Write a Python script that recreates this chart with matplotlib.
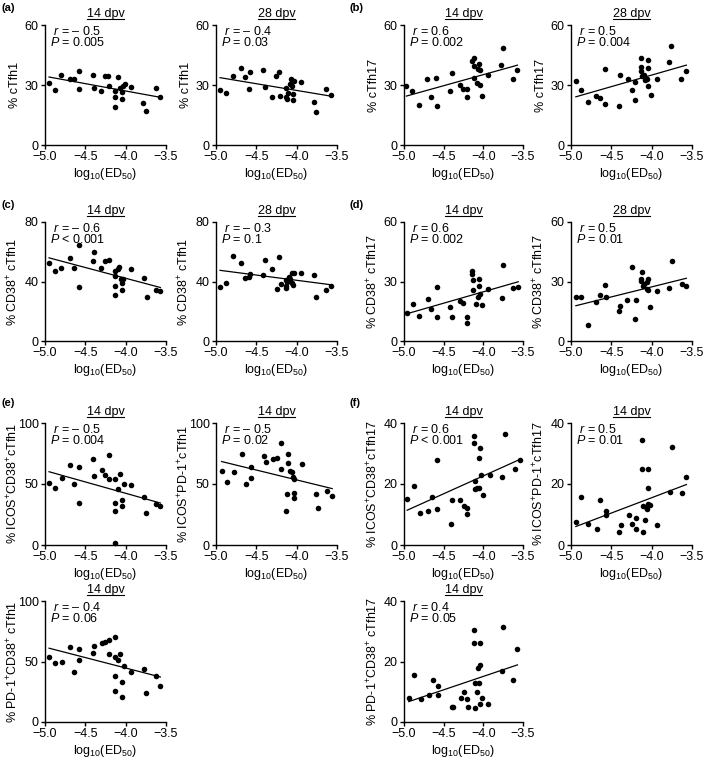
import matplotlib
matplotlib.use('Agg')
import matplotlib.pyplot as plt
import numpy as np

plt.rcParams['font.family'] = 'Liberation Sans'
plt.rcParams['mathtext.fontset'] = 'custom'
plt.rcParams['mathtext.rm'] = 'Liberation Sans'
plt.rcParams['mathtext.it'] = 'Liberation Sans:italic'
plt.rcParams['mathtext.bf'] = 'Liberation Sans:bold'

# (a) cTfh1
a14_x = [-4.95, -4.88, -4.80, -4.69, -4.64, -4.58, -4.58, -4.41, -4.39, -4.30, -4.26, -4.22, -4.21, -4.13,
         -4.13, -4.13, -4.09, -4.07, -4.05, -4.04, -4.03, -4.01, -3.94, -3.78, -3.75, -3.63, -3.57]
a14_y = [30.8, 27.3, 35, 33, 33, 36.8, 27.8, 35.2, 28.7, 27.2, 34.7, 34.7, 29.5, 27,
         23.8, 19.2, 33.8, 28.7, 23, 26.7, 29.7, 30.3, 29, 21, 17.2, 28.3, 23.8]
a28_x = [-4.95, -4.88, -4.79, -4.69, -4.64, -4.58, -4.59, -4.42, -4.39, -4.30, -4.26, -4.22, -4.21, -4.13,
         -4.13, -4.12, -4.11, -4.08, -4.07, -4.06, -4.05, -4.05, -4.03, -3.95, -3.78, -3.76, -3.64, -3.57]
a28_y = [27.4, 25.9, 34.5, 38.3, 33.8, 36.6, 28, 37.3, 28.9, 24, 34.5, 36.6, 24.5, 28.5,
         24, 23, 26, 30.3, 32.8, 29.4, 25.4, 22.7, 31.8, 31.7, 21.6, 16.7, 28.2, 24.9]

# (b) cTfh17
b14_x = [-4.97, -4.90, -4.81, -4.71, -4.66, -4.60, -4.59, -4.42, -4.40, -4.30, -4.26, -4.21, -4.21, -4.14,
         -4.12, -4.12, -4.12, -4.08, -4.07, -4.05, -4.04, -4.04, -4.02, -3.94, -3.78, -3.75, -3.62, -3.57]
b14_y = [29.5, 26.9, 19.9, 33.1, 24.2, 33.6, 19.7, 26.9, 35.8, 30, 27.8, 28.2, 24.2, 41.8,
         43.3, 39.6, 33.6, 30.8, 37.8, 40.3, 37.6, 30, 24.7, 35, 40.1, 48.3, 32.8, 37.5]
b28_x = [-4.94, -4.87, -4.79, -4.69, -4.64, -4.58, -4.58, -4.41, -4.39, -4.29, -4.25, -4.21, -4.21, -4.13,
         -4.13, -4.13, -4.12, -4.09, -4.08, -4.06, -4.05, -4.05, -4.04, -4.01, -3.94, -3.79, -3.76, -3.64, -3.57]
b28_y = [32, 27.3, 21.5, 24.4, 23.5, 38, 20.4, 19.7, 35, 33, 27.3, 31.6, 22.3, 43.4,
         39, 37, 34.6, 35, 32.5, 32.8, 42.4, 38.6, 29.6, 25, 33, 41.3, 49.5, 33, 36.8]

# (c) CD38+ cTfh1
c14_x = [-4.95, -4.87, -4.80, -4.69, -4.64, -4.58, -4.58, -4.41, -4.39, -4.30, -4.25, -4.21, -4.13, -4.13,
         -4.13, -4.13, -4.10, -4.08, -4.06, -4.04, -4.04, -4.03, -3.93, -3.77, -3.74, -3.62, -3.57]
c14_y = [52.3, 47.3, 48.9, 55.9, 49.3, 64.4, 36.3, 53.6, 60.1, 49.1, 53.6, 54.7, 47.3, 43.7,
         36.9, 30.6, 48.6, 50, 41.9, 39.2, 34.2, 41.9, 48.2, 42.6, 29.3, 34.5, 33.6]
c28_x = [-4.95, -4.88, -4.79, -4.69, -4.64, -4.58, -4.59, -4.42, -4.39, -4.30, -4.25, -4.22, -4.20, -4.13,
         -4.13, -4.13, -4.12, -4.09, -4.08, -4.06, -4.06, -4.05, -4.03, -3.95, -3.78, -3.76, -3.64, -3.57]
c28_y = [36.5, 38.7, 57, 52.5, 42.3, 44.8, 42.8, 44.6, 54.5, 48.2, 34.9, 56.3, 38.5, 41,
         36.9, 35.8, 39.9, 43.2, 41.9, 45.5, 38.7, 37.6, 45.7, 45.7, 44.1, 29.7, 34.2, 36.9]

# (d) CD38+ cTfh17
d14_x = [-4.96, -4.89, -4.81, -4.70, -4.66, -4.59, -4.59, -4.42, -4.40, -4.30, -4.26, -4.21, -4.21, -4.14,
         -4.14, -4.13, -4.13, -4.09, -4.07, -4.05, -4.05, -4.04, -4.02, -3.94, -3.77, -3.75, -3.62, -3.56]
d14_y = [14, 18.6, 12.5, 21.1, 15.9, 27.4, 12.2, 16.9, 12, 20.4, 19.4, 12.2, 9.1, 35.5,
         33.8, 30.7, 25.7, 18.9, 22.3, 31.4, 27.7, 23.5, 18.1, 26.4, 21.8, 38.3, 26.9, 27.4]
d28_x = [-4.94, -4.87, -4.79, -4.69, -4.64, -4.58, -4.57, -4.41, -4.39, -4.30, -4.25, -4.21, -4.20, -4.12,
         -4.13, -4.13, -4.11, -4.09, -4.06, -4.05, -4.06, -4.04, -4.02, -3.94, -3.78, -3.75, -3.63, -3.57]
d28_y = [22.3, 22, 7.9, 19.8, 23.1, 28.4, 22, 15.2, 17.7, 20.9, 37.5, 11.1, 20.9, 34.6,
         31.3, 30.2, 27.9, 28.5, 29.6, 31.4, 26, 25.7, 17.2, 25.3, 26.7, 40.5, 28.5, 27.9]

# (e) cTfh1 subsets, 14 dpv
e1_x = [-4.95, -4.88, -4.79, -4.69, -4.64, -4.58, -4.58, -4.41, -4.39, -4.29, -4.25, -4.21, -4.21, -4.13,
        -4.13, -4.13, -4.13, -4.07, -4.09, -4.05, -4.05, -4.02, -3.94, -3.77, -3.75, -3.63, -3.57]
e1_y = [51.2, 46.8, 54.8, 65.5, 50.1, 63.6, 34.5, 70.1, 56.2, 61.4, 57.5, 73.4, 54.5, 54.5,
        34.8, 28.2, 1.9, 57.8, 46, 37, 32.1, 50.1, 48.8, 39.2, 26.3, 33.7, 32.3]
e2_x = [-4.93, -4.86, -4.78, -4.68, -4.63, -4.56, -4.57, -4.40, -4.38, -4.29, -4.25, -4.20, -4.20, -4.11,
        -4.11, -4.12, -4.13, -4.08, -4.06, -4.04, -4.03, -4.03, -4.03, -3.93, -3.76, -3.74, -3.62, -3.56]
e2_y = [60.8, 51.5, 59.7, 74.8, 50.1, 64.1, 55.3, 73.2, 67.9, 70.1, 71.5, 83.8, 62.5, 74.5,
        67.1, 42.2, 28.2, 60.8, 59.7, 55.6, 54.5, 42.5, 38.9, 66.3, 41.6, 30.7, 44.4, 40]
e3_x = [-4.95, -4.88, -4.79, -4.69, -4.64, -4.58, -4.58, -4.41, -4.39, -4.29, -4.25, -4.21, -4.21, -4.13,
        -4.13, -4.13, -4.13, -4.09, -4.07, -4.05, -4.05, -4.02, -3.94, -3.77, -3.75, -3.63, -3.57]
e3_y = [54, 49, 50, 62, 41, 60, 51, 57, 63, 65, 66, 56, 68, 70,
        54, 38, 26, 51, 56, 33, 21, 46, 41, 44, 24, 38, 30]

# (f) cTfh17 subsets, 14 dpv
f1_x = [-4.96, -4.88, -4.80, -4.70, -4.65, -4.58, -4.58, -4.41, -4.39, -4.29, -4.24, -4.20, -4.20, -4.12,
        -4.12, -4.11, -4.11, -4.08, -4.05, -4.05, -4.04, -4.03, -4.01, -3.92, -3.76, -3.73, -3.60, -3.54]
f1_y = [15.1, 19.5, 10.6, 11.3, 15.6, 27.9, 11.7, 6.8, 14.8, 14.8, 12.8, 12.1, 10.3, 35.6,
        33.4, 18.3, 20.9, 18.6, 18.6, 28.4, 31.7, 22.8, 16.4, 22.9, 22.2, 36.5, 24.9, 27.9]
f2_x = [-4.94, -4.87, -4.79, -4.68, -4.64, -4.57, -4.57, -4.40, -4.38, -4.28, -4.24, -4.20, -4.19, -4.12,
        -4.12, -4.11, -4.11, -4.08, -4.07, -4.06, -4.04, -4.04, -4.04, -4.02, -3.94, -3.77, -3.75, -3.63, -3.57]
f2_y = [7.5, 15.8, 7, 5.2, 14.6, 11, 10, 4.2, 6.6, 9.9, 6.9, 8.7, 5.4, 34.3,
        25, 12.9, 4.1, 8.1, 12.4, 11.9, 25, 18.7, 13.4, 13, 6.6, 17.4, 32, 17.2, 22.2]
f3_x = [-4.94, -4.87, -4.79, -4.68, -4.64, -4.57, -4.57, -4.40, -4.38, -4.28, -4.24, -4.20, -4.19, -4.12,
        -4.12, -4.11, -4.11, -4.08, -4.07, -4.06, -4.04, -4.04, -4.04, -4.02, -3.94, -3.77, -3.75, -3.63, -3.57]
f3_y = [8, 15.5, 7.5, 9, 14, 9, 12, 5, 5, 8, 10, 7.5, 5, 30.5,
        26, 13, 4.5, 10, 18, 13, 26, 19, 6, 8, 6, 17, 31.5, 14, 24]

r_text = ['– 0.5', '– 0.4', '0.6', '0.5', '– 0.6', '– 0.3', '0.6', '0.5',
          '– 0.5', '– 0.5', '0.6', '0.5', '– 0.4', '0.4']
p_text = ['= 0.005', '= 0.03', '= 0.002', '= 0.004', '< 0.001', '= 0.1', '= 0.002', '= 0.01',
          '= 0.004', '= 0.02', '< 0.001', '= 0.01', '= 0.06', '= 0.05']

W, H = 709, 777
fig = plt.figure(figsize=(W / 100, H / 100), dpi=100)

rows = [(25, 145), (222, 341), (423, 545), (601, 722)]
cols = [(45, 166), (216, 337), (404, 523), (571, 692)]

panels = [
    (a14_x, a14_y, '% cTfh1', [0, 30, 60], '14 dpv', 0, 0),
    (a28_x, a28_y, '% cTfh1', [0, 30, 60], '28 dpv', 0, 1),
    (b14_x, b14_y, '% cTfh17', [0, 30, 60], '14 dpv', 0, 2),
    (b28_x, b28_y, '% cTfh17', [0, 30, 60], '28 dpv', 0, 3),
    (c14_x, c14_y, '% CD38$^{+}$ cTfh1', [0, 40, 80], '14 dpv', 1, 0),
    (c28_x, c28_y, '% CD38$^{+}$ cTfh1', [0, 40, 80], '28 dpv', 1, 1),
    (d14_x, d14_y, '% CD38$^{+}$ cTfh17', [0, 30, 60], '14 dpv', 1, 2),
    (d28_x, d28_y, '% CD38$^{+}$ cTfh17', [0, 30, 60], '28 dpv', 1, 3),
    (e1_x, e1_y, '% ICOS$^{+}$CD38$^{+}$cTfh1', [0, 50, 100], '14 dpv', 2, 0),
    (e2_x, e2_y, '% ICOS$^{+}$PD-1$^{+}$cTfh1', [0, 50, 100], '14 dpv', 2, 1),
    (f1_x, f1_y, '% ICOS$^{+}$CD38$^{+}$cTfh17', [0, 20, 40], '14 dpv', 2, 2),
    (f2_x, f2_y, '% ICOS$^{+}$PD-1$^{+}$cTfh17', [0, 20, 40], '14 dpv', 2, 3),
    (e3_x, e3_y, '% PD-1$^{+}$CD38$^{+}$ cTfh1', [0, 50, 100], '14 dpv', 3, 0),
    (f3_x, f3_y, '% PD-1$^{+}$CD38$^{+}$ cTfh17', [0, 20, 40], '14 dpv', 3, 2),
]

fs = 9
titles = []
for i, (x, y, ylab, yt, ttl, ri, ci) in enumerate(panels):
    l, r = cols[ci]
    t, b = rows[ri]
    ax = fig.add_axes([l / W, 1 - b / H, (r - l) / W, (b - t) / H])
    ax.scatter(x, y, s=16, color='black', zorder=3, clip_on=False, linewidths=0)
    k, c0 = np.polyfit(x, y, 1)
    xx = np.array([min(x), max(x)])
    ax.plot(xx, k * xx + c0, color='black', lw=0.9)
    ax.set_xlim(-5.0, -3.5)
    ax.set_ylim(yt[0], yt[-1])
    ax.set_xticks([-5.0, -4.5, -4.0, -3.5])
    ax.set_xticklabels(['−5.0', '−4.5', '−4.0', '−3.5'])
    ax.set_yticks(yt)
    for s in ['top', 'right']:
        ax.spines[s].set_visible(False)
    for s in ['left', 'bottom']:
        ax.spines[s].set_linewidth(1.0)
    ax.tick_params(direction='out', length=3, width=1.0, pad=1.5, labelsize=fs)
    ax.set_ylabel(ylab, fontsize=fs)
    ax.yaxis.set_label_coords(-0.2, 0.5)
    ax.set_xlabel('log$_{10}$(ED$_{50}$)', fontsize=fs)
    ax.xaxis.set_label_coords(0.5, -0.175)
    # r and P as one two-line block
    ax.text(0.045, 1.0, ' $\\it{r}$ = ' + r_text[i] + '\n$\\it{P}$ ' + p_text[i],
            transform=ax.transAxes, ha='left', va='top', fontsize=fs, linespacing=0.78)
    titles.append(ax.text(0.5, 1.045, ttl, transform=ax.transAxes,
                          ha='center', va='bottom', fontsize=fs))

for lab, px, py in [('(a)', 2, 8), ('(b)', 350, 8), ('(c)', 2, 205), ('(d)', 350, 205),
                    ('(e)', 2, 403), ('(f)', 350, 403)]:
    fig.text(px / W, 1 - py / H, lab, fontsize=8, fontweight='bold', ha='left', va='center')

# underline titles
fig.canvas.draw()
inv = fig.transFigure.inverted()
for t in titles:
    bb = t.get_window_extent()
    (x0, y0), (x1, y1) = inv.transform([[bb.x0, bb.y0], [bb.x1, bb.y1]])
    fig.add_artist(plt.Line2D([x0, x1], [y0 + 0.8 / H, y0 + 0.8 / H], color='black', lw=0.8,
                              transform=fig.transFigure))

fig.savefig('out.png', dpi=100)
